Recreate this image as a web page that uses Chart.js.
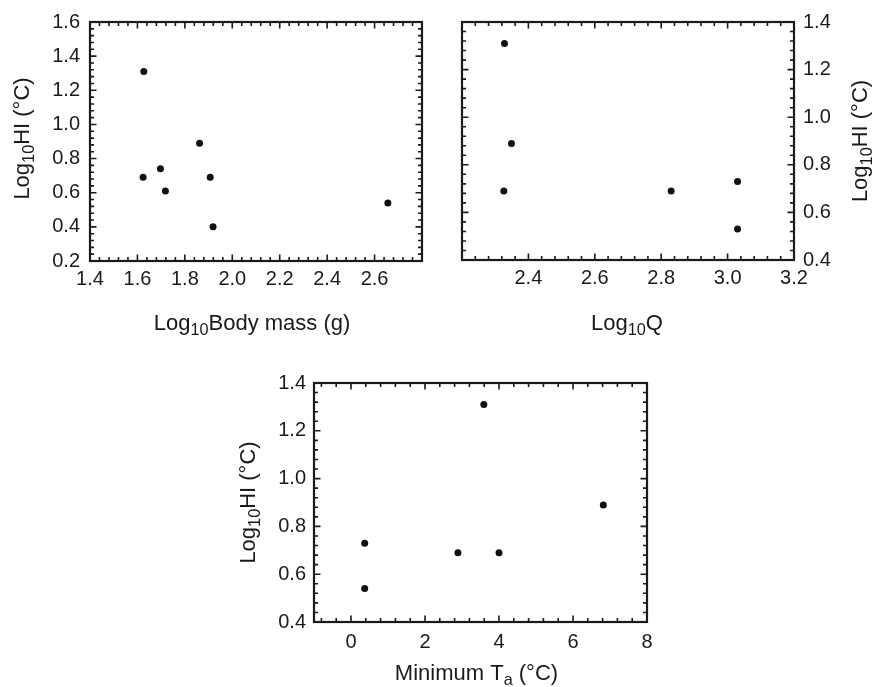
<!DOCTYPE html>
<html>
<head>
<meta charset="utf-8">
<script src="https://cdn.jsdelivr.net/npm/chart.js@4.4.1/dist/chart.umd.min.js"></script>
<style>
  html, body { margin: 0; padding: 0; background: #fff; }
  #page { position: relative; width: 872px; height: 687px; overflow: hidden; background: #fff; }
  canvas { position: absolute; }
</style>
</head>
<body>
<div id="page">
  <canvas id="c1" width="436" height="345" style="left:0px;top:0px"></canvas>
  <canvas id="c2" width="436" height="345" style="left:436px;top:0px"></canvas>
  <canvas id="c3" width="452" height="342" style="left:220px;top:345px"></canvas>
</div>
<script>
// ---------- data ----------
const bodyMass   = [1.627, 1.624, 1.697, 1.718, 1.862, 1.907, 1.919, 2.656];
const hiByMass   = [1.31, 0.69, 0.74, 0.61, 0.89, 0.69, 0.40, 0.54];

const logQ       = [2.328, 2.349, 2.326, 2.830, 3.030, 3.030];
const hiByQ      = [1.31, 0.89, 0.69, 0.69, 0.73, 0.53];

const minTa      = [0.37, 0.37, 2.89, 4.00, 3.59, 6.82];
const hiByTa     = [0.73, 0.54, 0.69, 0.69, 1.31, 0.89];

// ---------- tick labels ----------
const massTicks  = [1.4, 1.6, 1.8, 2.0, 2.2, 2.4, 2.6];
const hiTicksA   = [0.2, 0.4, 0.6, 0.8, 1.0, 1.2, 1.4, 1.6];
const qTicks     = [2.4, 2.6, 2.8, 3.0, 3.2];
const hiTicksB   = [0.4, 0.6, 0.8, 1.0, 1.2, 1.4];
const taTicks    = [0, 2, 4, 6, 8];

// ---------- axis titles (rich text parts) ----------
const titleMass  = [{t: 'Log'}, {t: '10', sub: true}, {t: 'Body mass (g)'}];
const titleQ     = [{t: 'Log'}, {t: '10', sub: true}, {t: 'Q'}];
const titleTa    = [{t: 'Minimum T'}, {t: 'a', sub: true}, {t: ' (°C)'}];
const titleHI    = [{t: 'Log'}, {t: '10', sub: true}, {t: 'HI (°C)'}];

const FONT = '"Liberation Sans", Arial, Helvetica, sans-serif';
const INK = '#1a1a1a';

function drawRich(ctx, parts, cx, baseY, size) {
  const sz = p => p.sub ? size * 0.74 : size;
  let w = 0;
  parts.forEach(p => { ctx.font = sz(p) + 'px ' + FONT; w += ctx.measureText(p.t).width; });
  let x = cx - w / 2;
  ctx.textAlign = 'left';
  ctx.textBaseline = 'alphabetic';
  parts.forEach(p => {
    ctx.font = sz(p) + 'px ' + FONT;
    ctx.fillText(p.t, x, baseY + (p.sub ? size * 0.22 : 0));
    x += ctx.measureText(p.t).width;
  });
}

const framePlugin = {
  id: 'frame',
  afterDraw(chart, args, o) {
    const {ctx, chartArea: a, scales: {x, y}} = chart;
    ctx.save();
    ctx.strokeStyle = INK;
    ctx.lineWidth = 1.6;
    const marks = (scale, minor, major, horiz) => {
      const s = Math.ceil(scale.min / minor - 1e-6);
      const e = Math.floor(scale.max / minor + 1e-6);
      for (let i = s; i <= e; i++) {
        const v = i * minor;
        const r = v / major;
        const len = Math.abs(r - Math.round(r)) < 1e-6 ? 6.5 : 4;
        const p = scale.getPixelForValue(v);
        ctx.beginPath();
        if (horiz) {
          ctx.moveTo(p, a.bottom); ctx.lineTo(p, a.bottom - len);
          ctx.moveTo(p, a.top); ctx.lineTo(p, a.top + len);
        } else {
          ctx.moveTo(a.left, p); ctx.lineTo(a.left + len, p);
          ctx.moveTo(a.right, p); ctx.lineTo(a.right - len, p);
        }
        ctx.stroke();
      }
    };
    marks(x, o.xMinor, o.xMajor, true);
    marks(y, o.yMinor, o.yMajor, false);
    ctx.lineWidth = 2.2;
    ctx.strokeRect(a.left, a.top, a.right - a.left, a.bottom - a.top);

    // axis titles
    ctx.fillStyle = INK;
    drawRich(ctx, o.xTitle, (a.left + a.right) / 2 + o.xTitleShift, a.bottom + o.xTitleGap, 22);
    ctx.save();
    const bx = o.ySide === 'right' ? a.right + o.yTitleGap : a.left - o.yTitleGap;
    ctx.translate(bx, (a.top + a.bottom) / 2 + o.yTitleShift);
    ctx.rotate(-Math.PI / 2);
    drawRich(ctx, o.yTitle, 0, 0, 22);
    ctx.restore();
    ctx.restore();
  }
};

function makeChart(id, c) {
  return new Chart(document.getElementById(id), {
    type: 'scatter',
    data: {
      datasets: [{
        data: c.xs.map((v, i) => ({x: v, y: c.ys[i]})),
        backgroundColor: '#111',
        borderWidth: 0,
        pointRadius: 3.5,
        pointHoverRadius: 3.5
      }]
    },
    options: {
      responsive: false,
      animation: false,
      devicePixelRatio: 1,
      layout: {padding: c.pad},
      plugins: {legend: {display: false}, tooltip: {enabled: false}, frame: c.frame},
      scales: {
        x: {
          type: 'linear', position: 'bottom', min: c.xMin, max: c.xMax,
          afterBuildTicks: s => { s.ticks = c.xTicks.map(v => ({value: v})); },
          afterFit: s => { s.height = c.xH; },
          grid: {display: false, drawTicks: false},
          border: {display: false},
          ticks: {font: {family: FONT, size: 20}, color: INK, padding: c.xPad,
                  maxRotation: 0, autoSkip: false, callback: v => c.xFmt(v)}
        },
        y: {
          type: 'linear', position: c.yPos, min: c.yMin, max: c.yMax,
          afterBuildTicks: s => { s.ticks = c.yTicks.map(v => ({value: v})); },
          afterFit: s => { s.width = c.yW; },
          grid: {display: false, drawTicks: false},
          border: {display: false},
          ticks: {font: {family: FONT, size: 20}, color: INK, padding: c.yPad,
                  autoSkip: false, callback: v => Number(v).toFixed(1)}
        }
      }
    },
    plugins: [framePlugin]
  });
}

makeChart('c1', {
  xs: bodyMass, ys: hiByMass, xTicks: massTicks, yTicks: hiTicksA,
  xMin: 1.4, xMax: 2.8, yMin: 0.2, yMax: 1.6, yPos: 'left',
  pad: {left: 0, top: 22, right: 14, bottom: 0}, xH: 84, yW: 90, xPad: 6, yPad: 10,
  xFmt: v => Number(v).toFixed(1),
  frame: {xMinor: 0.04, xMajor: 0.2, yMinor: 0.04, yMajor: 0.2,
          xTitle: titleMass, yTitle: titleHI, xTitleGap: 69, xTitleShift: -4,
          ySide: 'left', yTitleGap: 61, yTitleShift: -3}
});

makeChart('c2', {
  xs: logQ, ys: hiByQ, xTicks: qTicks, yTicks: hiTicksB,
  xMin: 2.2, xMax: 3.2, yMin: 0.4, yMax: 1.4, yPos: 'right',
  pad: {left: 26, top: 22, right: 0, bottom: 0}, xH: 85, yW: 78, xPad: 6, yPad: 9,
  xFmt: v => Number(v).toFixed(1),
  frame: {xMinor: 0.04, xMajor: 0.2, yMinor: 0.04, yMajor: 0.2,
          xTitle: titleQ, yTitle: titleHI, xTitleGap: 70, xTitleShift: -1,
          ySide: 'right', yTitleGap: 73, yTitleShift: 0}
});

makeChart('c3', {
  xs: minTa, ys: hiByTa, xTicks: taTicks, yTicks: hiTicksB,
  xMin: -1, xMax: 8, yMin: 0.4, yMax: 1.4, yPos: 'left',
  pad: {left: 0, top: 38, right: 25, bottom: 0}, xH: 65, yW: 94, xPad: 8, yPad: 8,
  xFmt: v => String(Math.round(v)),
  frame: {xMinor: 0.4, xMajor: 2, yMinor: 0.04, yMajor: 0.2,
          xTitle: titleTa, yTitle: titleHI, xTitleGap: 58, xTitleShift: -4,
          ySide: 'left', yTitleGap: 59, yTitleShift: 0}
});
</script>
</body>
</html>
